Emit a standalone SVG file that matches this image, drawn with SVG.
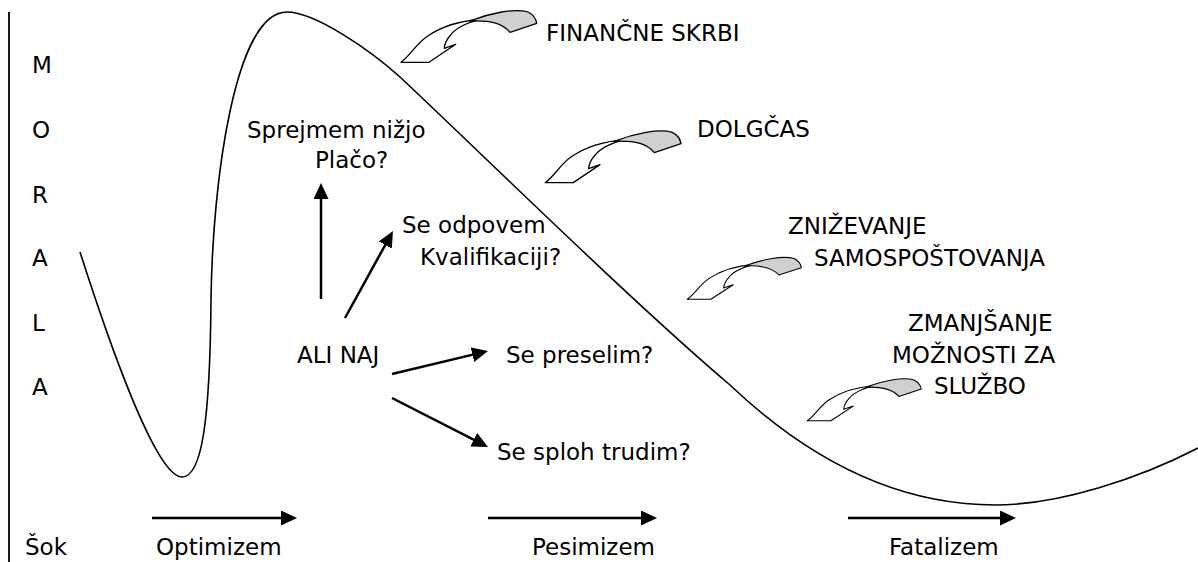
<svg xmlns="http://www.w3.org/2000/svg" width="1198" height="562" viewBox="0 0 1198 562">
<style>
  text { font-family: "DejaVu Sans", "Liberation Sans", sans-serif; font-size: 23px; fill: #000; }
  .conn { stroke: #000; stroke-width: 2.5; fill: none; marker-end: url(#head); }
  .curve { stroke: #000; stroke-width: 1.6; fill: none; }
  .axis { stroke: #000; stroke-width: 1.8; fill: none; }
  .cw { fill: #fff; stroke: #000; stroke-width: 1.3; stroke-linejoin: round; }
  .cg { fill: #d0d0d0; stroke: #000; stroke-width: 1.3; stroke-linejoin: round; }
</style>
<defs>
  <marker id="head" markerUnits="userSpaceOnUse" markerWidth="16" markerHeight="15" refX="8" refY="7.5" orient="auto" viewBox="0 0 16 15">
    <path d="M0,0 L16,7.5 L0,15 Z" fill="#000"/>
  </marker>
  <g id="carrow">
    <path class="cw" d="M401,62.3 C410,56 416,44 427,36.5 C440,27.5 458,21 480,19.5 C468,22 456,28 451,34.5 C446,40 444.5,45 444.3,48.3 L455.7,44.3 L429,62.3 Z"/>
    <path class="cg" d="M470,21 C490,13 515,8 528,12 C534,15 536,19 536.7,23.3 L510,32.3 C503,24 492,20 470,21 Z"/>
  </g>
</defs>
<rect width="1198" height="562" fill="#fff"/>

<g id="axis">
  <line class="axis" x1="9" y1="12" x2="9" y2="562"/>
</g>

<g id="morale-curve">
  <path class="curve" d="M80,252 C105,330 155,477 182,477 C202,477 210,420 211,300 C212.5,180 235,12 287,12 C315,12 370,50 400,77 C480,152 630,300 730,385 C790,442 880,505 995,505 C1060,505 1140,478 1198,448"/>
</g>

<g id="axis-label">
  <text x="32" y="73">M</text>
  <text x="32" y="138">O</text>
  <text x="32" y="203">R</text>
  <text x="32" y="266">A</text>
  <text x="32" y="331">L</text>
  <text x="32" y="395">A</text>
</g>

<g id="connectors">
  <line class="conn" x1="321" y1="299" x2="321" y2="191"/>
  <line class="conn" x1="345" y1="318" x2="389.1" y2="238"/>
  <line class="conn" x1="392" y1="374" x2="480.2" y2="352.9"/>
  <line class="conn" x1="392" y1="398" x2="480.9" y2="443.4"/>
  <line class="conn" x1="152" y1="518" x2="289" y2="518"/>
  <line class="conn" x1="488" y1="518" x2="649" y2="518"/>
  <line class="conn" x1="848" y1="518" x2="1008" y2="518"/>
</g>

<g id="curved-arrows">
  <use href="#carrow"/>
  <use href="#carrow" transform="translate(144.3,120.3)"/>
  <use href="#carrow" transform="translate(687.3,299.3) scale(0.84,0.81) translate(-401,-62.3)"/>
  <use href="#carrow" transform="translate(807.3,420.7) scale(0.84,0.81) translate(-401,-62.3)"/>
</g>

<g id="node-financne"><text x="546" y="41">FINANČNE SKRBI</text></g>
<g id="node-dolgcas"><text x="697" y="137">DOLGČAS</text></g>
<g id="node-znizevanje"><text x="788" y="234">ZNIŽEVANJE</text><text x="814" y="266">SAMOSPOŠTOVANJA</text></g>
<g id="node-zmanjsanje"><text x="908" y="331">ZMANJŠANJE</text><text x="892" y="363">MOŽNOSTI ZA</text><text x="934" y="394">SLUŽBO</text></g>
<g id="node-sprejmem"><text x="247" y="138">Sprejmem nižjo</text><text x="315" y="168">Plačo?</text></g>
<g id="node-odpovem"><text x="402" y="233">Se odpovem</text><text x="420" y="265">Kvalifikaciji?</text></g>
<g id="node-alinaj"><text x="297" y="363">ALI NAJ</text></g>
<g id="node-preselim"><text x="506" y="363">Se preselim?</text></g>
<g id="node-sploh"><text x="497" y="460">Se sploh trudim?</text></g>
<g id="node-sok"><text x="25" y="555">Šok</text></g>
<g id="node-optimizem"><text x="156" y="555">Optimizem</text></g>
<g id="node-pesimizem"><text x="532" y="555">Pesimizem</text></g>
<g id="node-fatalizem"><text x="889" y="555">Fatalizem</text></g>
</svg>
